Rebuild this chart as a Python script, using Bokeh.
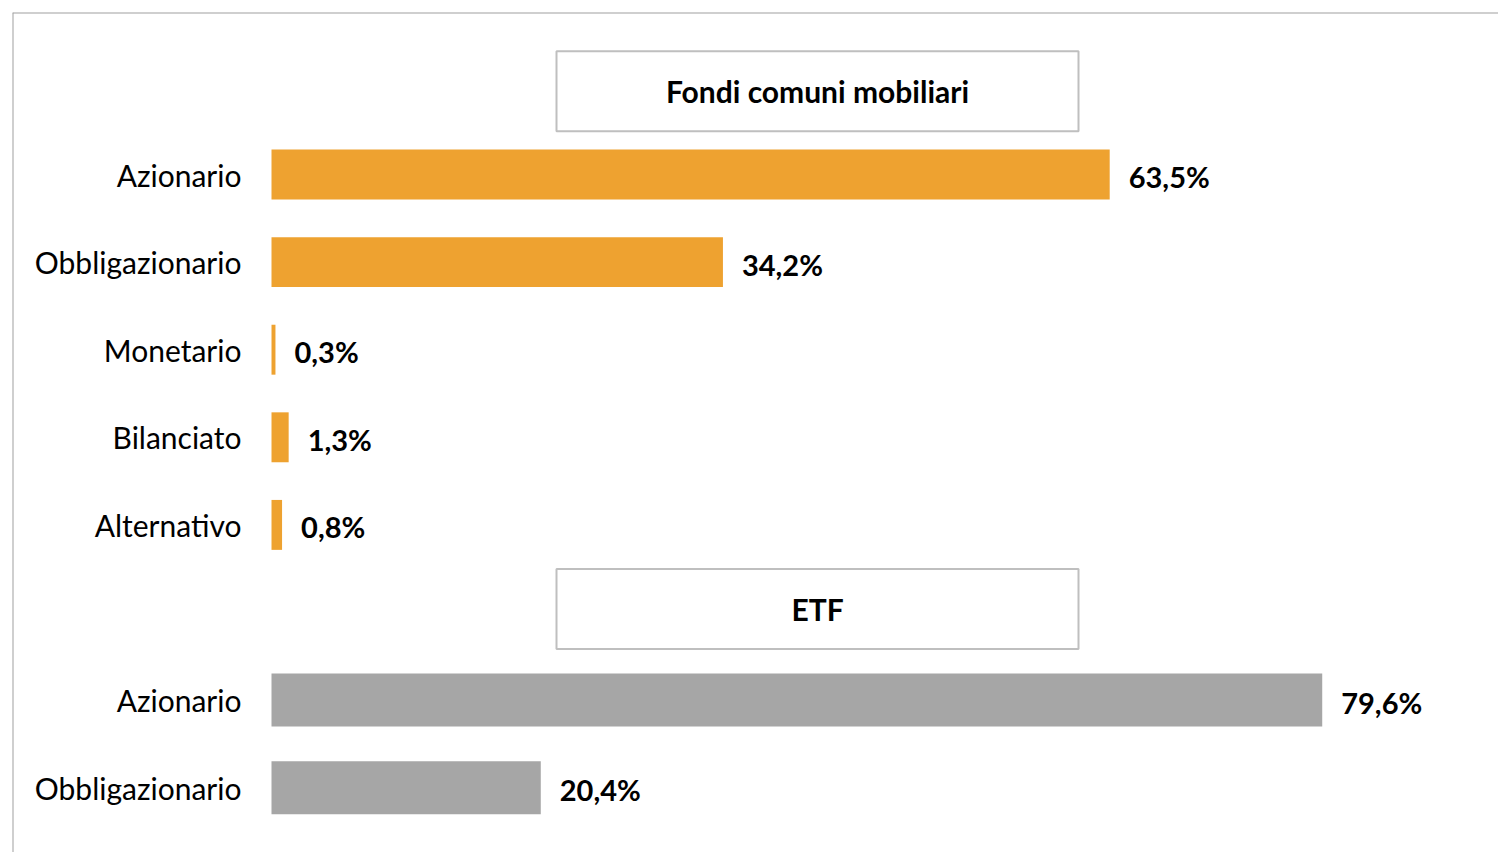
from bokeh.plotting import figure
from bokeh.models import Range1d, ColumnDataSource, Span
from bokeh.core.properties import value
from bokeh.embed import file_html
from bokeh.resources import INLINE

# ---- data ----
panel_titles = ["Fondi comuni mobiliari", "ETF"]
fondi_categories = ["Azionario", "Obbligazionario", "Monetario", "Bilanciato", "Alternativo"]
fondi_values = [63.5, 34.2, 0.3, 1.3, 0.8]
etf_categories = ["Azionario", "Obbligazionario"]
etf_values = [79.6, 20.4]

# ---- style / layout ----
ORANGE = "#EEA230"
GREY = "#A6A6A6"
BORDER_COLOR = "#A0A0A0"
BOX_COLOR = "#BFBFBF"
FONT = "Lato"

W, H = 1498, 852
BORDER = 12
PX_PER_PCT = 13.2
ZERO_PX = 259.0
ROW_PX = 87.6
FIRST_ROW_PX = 162.0

frame_w = W - BORDER
frame_h = H - BORDER
x0 = -ZERO_PX / PX_PER_PCT
x1 = x0 + frame_w / PX_PER_PCT
y_top = -FIRST_ROW_PX / ROW_PX
y_bottom = y_top + frame_h / ROW_PX

fondi_rows = list(range(len(fondi_categories)))
etf_rows = [6 + i for i in range(len(etf_categories))]
title_rows = [-0.95, 4.96]


def fmt(v):
    return f"{v:.1f}".replace(".", ",") + "%"


p = figure(width=W, height=H, x_range=Range1d(x0, x1), y_range=Range1d(y_bottom, y_top),
           output_backend="svg", toolbar_location=None,
           x_axis_location=None, y_axis_location=None,
           min_border_left=BORDER, min_border_top=BORDER,
           min_border_right=0, min_border_bottom=0)
p.grid.visible = False
p.outline_line_color = None
p.background_fill_color = "white"
p.border_fill_color = "white"

fondi_src = ColumnDataSource(dict(y=fondi_rows, v=fondi_values, cat=fondi_categories,
                                  lab=[fmt(v) for v in fondi_values]))
etf_src = ColumnDataSource(dict(y=etf_rows, v=etf_values, cat=etf_categories,
                                lab=[fmt(v) for v in etf_values]))

p.hbar(y="y", left=0, right="v", height=0.57, source=fondi_src,
       fill_color=ORANGE, line_color=None)
p.hbar(y="y", left=0, right="v", height=0.605, source=etf_src,
       fill_color=GREY, line_color=None)

for src in (fondi_src, etf_src):
    p.text(x=0, y="y", text="cat", source=src, x_offset=-30,
           text_align="right", text_baseline="middle",
           text_font=value(FONT), text_font_size="30px", text_color="#000000")
    p.text(x="v", y="y", text="lab", source=src, x_offset=19, y_offset=2,
           text_align="left", text_baseline="middle",
           text_font=value(FONT), text_font_style="bold",
           text_font_size="29px", text_color="#000000")

# panel title boxes
box_left = (556 - 271) / PX_PER_PCT
box_right = (1078 - 271) / PX_PER_PCT
title_src = ColumnDataSource(dict(y=title_rows, t=panel_titles))
p.rect(x=(box_left + box_right) / 2, y="y", width=box_right - box_left,
       height=80 / ROW_PX, source=title_src,
       fill_color="white", line_color=BOX_COLOR, line_width=2)
p.text(x=(box_left + box_right) / 2, y="y", text="t", source=title_src,
       text_align="center", text_baseline="middle",
       text_font=value(FONT), text_font_style="bold",
       text_font_size="30px", text_color="#000000")

# outer frame (left and top edges visible)
p.add_layout(Span(location=x0, dimension="height", line_color=BORDER_COLOR, line_width=2))
p.add_layout(Span(location=y_top, dimension="width", line_color=BORDER_COLOR, line_width=2))

open("out.html", "w").write(file_html(p, INLINE))
